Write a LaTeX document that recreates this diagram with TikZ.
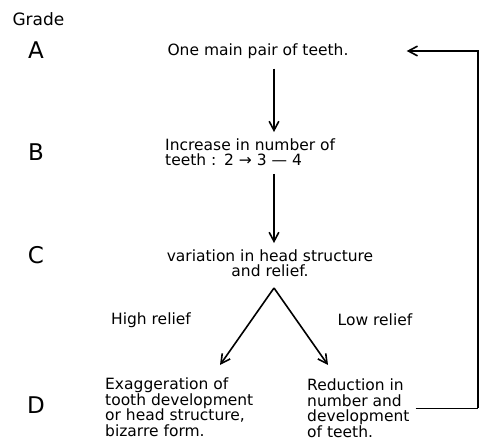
\documentclass[tikz,border=0pt]{standalone}
\usepackage{fontspec}
\setmainfont{DejaVu Sans}
\usetikzlibrary{positioning, arrows.meta}

\begin{document}
\begin{tikzpicture}[
  x=1pt, y=-1pt,
  font=\fontsize{15.5}{15.5}\selectfont,
  grade/.style={font=\fontsize{23}{26}\selectfont},
  txt/.style={align=left, inner sep=2pt},
  ar/.style={-{Straight Barb[length=3.2mm, width=3.4mm]}, line width=1.6pt}
]
  \useasboundingbox (0,0) rectangle (481,443);
  % grade column
  \node[anchor=west, font=\fontsize{17}{19}\selectfont] (title) at (9,19) {Grade};
  \node[grade] (gA) at (36,50) {A};
  \node[grade] (gB) at (36,152) {B};
  \node[grade] (gC) at (36,255) {C};
  \node[grade] (gD) at (36,405) {D};
  % stages
  \node[txt] (a) at (258,51) {One main pair of teeth.};
  \node[txt, anchor=west] (b) at (163,152) {Increase in number of\\teeth :\enspace 2 → 3 — 4};
  \node[txt, align=center] (c) at (270,263) {variation in head structure\\and relief.};
  \coordinate (fork) at (274,288);
  \node (hi) at (151,320) {High relief};
  \node (lo) at (375,320) {Low relief};
  \node[txt, anchor=north west] (dl) at (103,376) {Exaggeration of\\tooth development\\or head structure,\\bizarre form.};
  \node[txt, anchor=north west] (dr) at (305,377) {Reduction in\\number and\\development\\of teeth.};
  \coordinate (back) at (478,0);
  % connectors
  \draw[ar] ([yshift=-8pt]a.south -| fork) -- ([yshift=4pt]b.north -| fork);
  \draw[ar] ([yshift=-6pt]b.south -| fork) -- ([yshift=4pt]c.north -| fork);
  \draw[ar] (fork) -- ([xshift=117pt, yshift=11pt]dl.north west);
  \draw[ar] (fork) -- ([xshift=23pt, yshift=12pt]dr.north west);
  \draw[line width=1.6pt] ([xshift=4pt]dr.east) -- (dr.east -| back) coordinate (turn);
  \draw[ar] (turn) |- ([xshift=56pt]a.east);
\end{tikzpicture}
\end{document}
